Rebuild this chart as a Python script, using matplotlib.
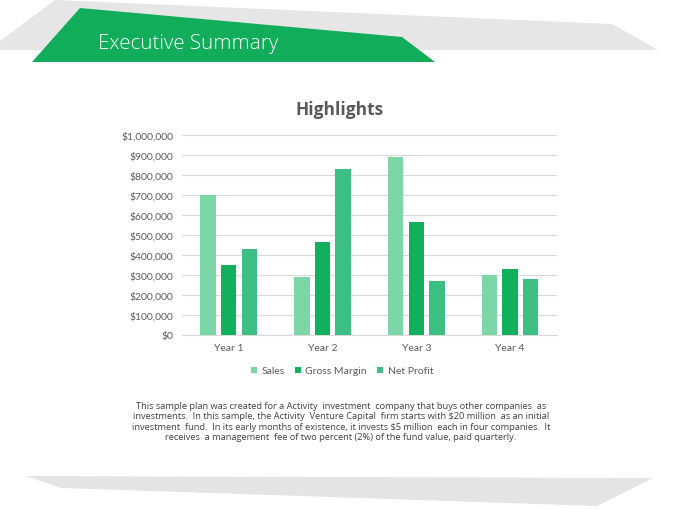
import numpy as np
import matplotlib.pyplot as plt
from matplotlib.patches import Polygon

# Data
years = ['Year 1', 'Year 2', 'Year 3', 'Year 4']
sales = [700000, 290000, 890000, 300000]
gross_margin = [350000, 465000, 565000, 330000]
net_profit = [430000, 830000, 270000, 280000]
series_names = ['Sales', 'Gross Margin', 'Net Profit']
series_colors = ['#7dd6a8', '#10b05c', '#3cbf82']
y_ticks = np.arange(0, 1000001, 100000)

body = ("This sample plan was created for a Activity  investment  company that buys other companies  as\n"
        "investments.  In this sample, the Activity  Venture Capital  firm starts with $20 million  as an initial\n"
        "investment  fund.  In its early months of existence, it invests $5 million  each in four companies.  It\n"
        "receives  a management  fee of two percent (2%) of the fund value, paid quarterly.")

fig = plt.figure(figsize=(6.8, 5.1), dpi=100)

# background layer in pixel coordinates for the slide decorations
bg = fig.add_axes([0, 0, 1, 1])
bg.set_xlim(0, 680)
bg.set_ylim(510, 0)
bg.axis('off')
bg.add_patch(Polygon([(0, 51), (0, 42), (55, 1), (612, 25), (658, 51)],
                     closed=True, color='#e6e6e6', lw=0))
bg.add_patch(Polygon([(32, 63), (80, 9), (402, 38), (435, 63)],
                     closed=True, color='#12ad5b', lw=0))
bg.add_patch(Polygon([(25, 477), (653, 479), (597, 507), (62, 489)],
                     closed=True, color='#e4e4e4', lw=0))
bg.text(98, 44, 'Executive Summary', color='white', fontsize=14.8,
        family='Open Sans', fontweight='light', va='center', ha='left')
bg.text(340, 110, 'Highlights', color='#595959', fontsize=12.5,
        family='Open Sans', fontweight='bold', va='center', ha='center')
bg.text(341, 422, body, color='#404040', fontsize=6.7, family='Open Sans',
        ha='center', va='center', linespacing=1.2)

# chart
ax = fig.add_axes([181.7 / 680, 1 - 336 / 510, (557 - 181.7) / 680, 200 / 510])
x = np.arange(len(years))
width = 0.165
step = 0.22
bars = []
for i, (vals, name, col) in enumerate(zip([sales, gross_margin, net_profit], series_names, series_colors)):
    b = ax.bar(x + (i - 1) * step, vals, width, color=col, label=name, zorder=3)
    bars.append(b)

ax.set_xlim(-0.5, 3.5)
ax.set_ylim(0, 1000000)
ax.set_yticks(y_ticks)
ax.set_yticklabels(['${:,.0f}'.format(v) for v in y_ticks])
ax.set_xticks(x)
ax.set_xticklabels(years)
ax.grid(axis='y', color='#d9d9d9', lw=0.8, zorder=0)
for s in ['top', 'right', 'left']:
    ax.spines[s].set_visible(False)
ax.spines['bottom'].set_color('#d9d9d9')
ax.tick_params(length=0, labelsize=7.5, labelcolor='#595959', pad=6)
for lab in ax.get_xticklabels() + ax.get_yticklabels():
    lab.set_family('Lato')

fig.legend(handles=bars, labels=series_names, loc='center', bbox_to_anchor=(342 / 680, 1 - 372 / 510),
           ncol=3, frameon=False, prop={'family': 'Lato', 'size': 7.5},
           handlelength=0.6, handleheight=0.6, handletextpad=0.4, columnspacing=1.0,
           labelcolor='#595959')

fig.savefig('out.png', dpi=100)
